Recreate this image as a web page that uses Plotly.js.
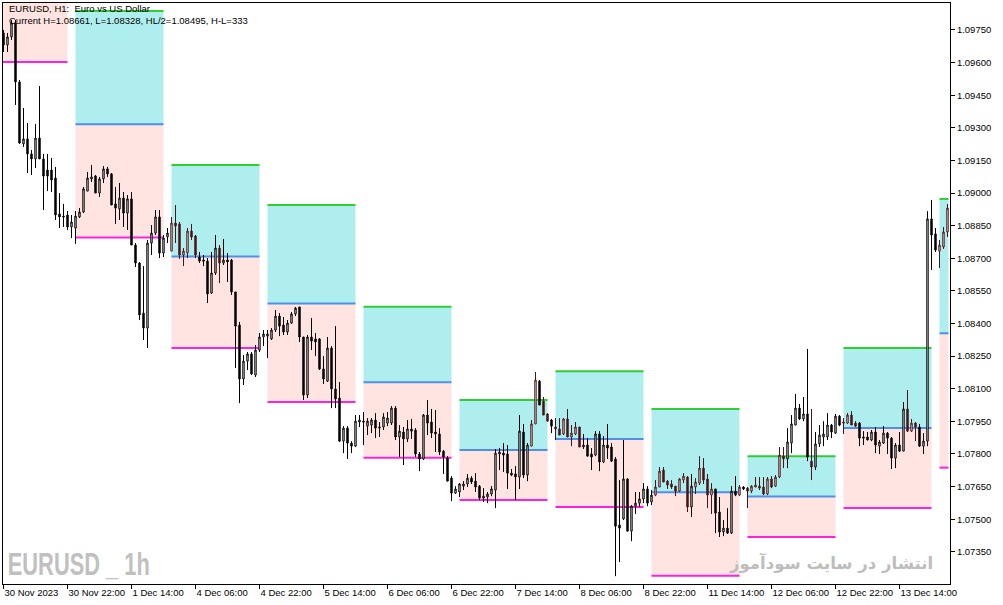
<!DOCTYPE html>
<html>
<head>
<meta charset="utf-8">
<script src="https://cdn.plot.ly/plotly-3.0.1.min.js"></script>
<style>
  html, body { margin: 0; padding: 0; background: #fff; }
  #chart { width: 1003px; height: 605px; }
</style>
</head>
<body>
<div id="chart"></div>
<script>
// EURUSD H1, bars from 30 Nov 2023 06:00 to 14 Dec 2023 02:00 (one line per day)
var openPx = [
  1.09736,1.09681,1.09718,1.09782,1.09511,1.09226,1.09249,1.09180,1.09157,1.09253,1.09157,1.09106,1.09106,1.09069,1.08904,1.08894,1.08899,1.08844,
  1.08839,1.08890,1.08913,1.09009,1.09065,1.09078,1.09000,1.09065,1.09111,1.09088,1.08950,1.08927,1.08977,1.08908,1.08973,1.08761,1.08678,1.08448,1.08379,1.08770,1.08816,1.08890,1.08724,1.08798,
  1.08733,1.08862,1.08858,1.08715,1.08724,1.08825,1.08802,1.08706,1.08692,1.08687,1.08540,1.08632,1.08747,1.08678,1.08692,1.08692,1.08545,1.08393,1.08145,1.08227,1.08260,1.08163,1.08278,1.08338,
  1.08342,1.08329,1.08370,1.08434,1.08393,1.08361,1.08402,1.08444,1.08476,1.08338,1.08071,1.08338,1.08329,1.08329,1.08191,1.08135,1.08287,1.08099,1.08057,1.07859,1.07919,1.07850,1.07836,1.07947,
  1.07951,1.07928,1.07933,1.07956,1.07919,1.07924,1.07942,1.07942,1.08011,1.07878,1.07901,1.07869,1.07915,1.07910,1.07800,1.07777,1.07979,1.07947,1.07901,1.07892,1.07813,1.07781,1.07689,1.07620,
  1.07625,1.07652,1.07662,1.07689,1.07675,1.07652,1.07597,1.07602,1.07616,1.07634,1.07800,1.07804,1.07800,1.07712,1.07708,1.07694,1.07901,1.07703,1.07836,1.07938,1.08135,1.08043,1.07984,1.07956,
  1.07924,1.07915,1.07892,1.07961,1.07878,1.07892,1.07924,1.07832,1.07841,1.07800,1.07795,1.07892,1.07763,1.07841,1.07832,1.07777,1.07473,1.07501,1.07685,1.07445,1.07560,1.07574,1.07593,1.07639,
  1.07579,1.07611,1.07648,1.07726,1.07675,1.07662,1.07652,1.07629,1.07680,1.07694,1.07556,1.07648,1.07666,1.07735,1.07685,1.07611,1.07639,1.07533,1.07441,1.07459,1.07436,1.07629,1.07611,1.07648,
  1.07643,1.07629,1.07648,1.07652,1.07648,1.07616,1.07685,1.07652,1.07694,1.07790,1.07777,1.07850,1.07933,1.08011,1.07961,1.07984,1.07767,1.07740,1.07846,1.07878,1.07878,1.07933,1.07896,1.07974,
  1.07947,1.07942,1.07979,1.07942,1.07942,1.07878,1.07878,1.07864,1.07901,1.07836,1.07850,1.07896,1.07873,1.07781,1.07841,1.07813,1.08007,1.07905,1.07942,1.07924,1.07836,1.07859,1.08881,1.08812,
  1.08733,1.08752,1.08821
];
var highPx = [
  1.09750,1.09736,1.09796,1.09796,1.09520,1.09391,1.09322,1.09198,1.09318,1.09492,1.09180,1.09180,1.09161,1.09120,1.09000,1.08950,1.08917,1.08899,
  1.08917,1.08931,1.09028,1.09097,1.09129,1.09083,1.09074,1.09124,1.09120,1.09092,1.09028,1.09046,1.09005,1.08991,1.09005,1.08770,1.08683,1.08664,1.08784,1.08853,1.08922,1.08922,1.08807,1.08839,
  1.08890,1.08945,1.08867,1.08747,1.08839,1.08858,1.08807,1.08729,1.08715,1.08701,1.08729,1.08807,1.08761,1.08789,1.08724,1.08697,1.08545,1.08407,1.08255,1.08269,1.08269,1.08301,1.08356,1.08370,
  1.08370,1.08379,1.08462,1.08448,1.08430,1.08416,1.08453,1.08476,1.08476,1.08338,1.08347,1.08425,1.08356,1.08333,1.08250,1.08338,1.08296,1.08388,1.08131,1.07928,1.07928,1.07859,1.07979,1.07979,
  1.07993,1.07965,1.07965,1.07988,1.07947,1.07988,1.07993,1.08020,1.08020,1.07933,1.07924,1.07956,1.07961,1.07919,1.07809,1.07984,1.08048,1.08007,1.08002,1.07919,1.07818,1.07790,1.07698,1.07652,
  1.07666,1.07675,1.07708,1.07698,1.07712,1.07657,1.07643,1.07625,1.07652,1.07823,1.07827,1.07850,1.07841,1.07731,1.07744,1.07979,1.07938,1.07850,1.07956,1.08177,1.08140,1.08062,1.07988,1.07961,
  1.07965,1.07965,1.07965,1.08007,1.07933,1.07947,1.07924,1.07892,1.07873,1.07827,1.07905,1.07905,1.07882,1.07938,1.07850,1.07786,1.07680,1.07864,1.07689,1.07565,1.07625,1.07625,1.07666,1.07652,
  1.07634,1.07680,1.07740,1.07740,1.07680,1.07680,1.07652,1.07689,1.07712,1.07698,1.07708,1.07689,1.07790,1.07781,1.07708,1.07666,1.07639,1.07602,1.07496,1.07551,1.07652,1.07698,1.07657,1.07652,
  1.07648,1.07657,1.07694,1.07694,1.07694,1.07694,1.07698,1.07703,1.07832,1.07832,1.07919,1.07979,1.08076,1.08030,1.08062,1.08283,1.08007,1.07901,1.07933,1.07951,1.07988,1.07938,1.07984,1.07979,
  1.07965,1.07988,1.07997,1.07951,1.07947,1.07905,1.07901,1.07910,1.07924,1.07864,1.07928,1.07901,1.07878,1.07850,1.07901,1.08039,1.08094,1.07961,1.07947,1.07938,1.07896,1.08917,1.08968,1.08839,
  1.08784,1.08844,1.08950
];
var lowPx = [
  1.09649,1.09649,1.09704,1.09405,1.09226,1.09212,1.09092,1.09083,1.09115,1.09157,1.08922,1.09009,1.09005,1.08876,1.08839,1.08844,1.08830,1.08793,
  1.08766,1.08885,1.08908,1.09009,1.09051,1.09000,1.08982,1.09046,1.09074,1.08945,1.08858,1.08876,1.08844,1.08830,1.08761,1.08660,1.08416,1.08324,1.08287,1.08715,1.08807,1.08701,1.08706,1.08770,
  1.08733,1.08770,1.08697,1.08664,1.08701,1.08784,1.08701,1.08678,1.08664,1.08494,1.08536,1.08623,1.08586,1.08669,1.08591,1.08531,1.08195,1.08034,1.08117,1.08186,1.08163,1.08154,1.08269,1.08296,
  1.08241,1.08324,1.08361,1.08342,1.08347,1.08347,1.08398,1.08434,1.08315,1.08048,1.08057,1.08278,1.08250,1.08186,1.08122,1.08131,1.08011,1.08011,1.07855,1.07804,1.07777,1.07804,1.07832,1.07924,
  1.07841,1.07887,1.07896,1.07873,1.07878,1.07910,1.07928,1.07933,1.07864,1.07786,1.07749,1.07855,1.07869,1.07786,1.07721,1.07772,1.07887,1.07873,1.07809,1.07795,1.07708,1.07675,1.07583,1.07616,
  1.07602,1.07634,1.07648,1.07662,1.07625,1.07588,1.07579,1.07574,1.07606,1.07551,1.07726,1.07717,1.07639,1.07698,1.07588,1.07639,1.07689,1.07675,1.07836,1.07938,1.08025,1.07979,1.07951,1.07896,
  1.07864,1.07887,1.07887,1.07878,1.07836,1.07887,1.07832,1.07823,1.07790,1.07726,1.07790,1.07721,1.07758,1.07777,1.07763,1.07238,1.07303,1.07496,1.07445,1.07399,1.07524,1.07556,1.07574,1.07560,
  1.07565,1.07606,1.07648,1.07671,1.07639,1.07639,1.07606,1.07625,1.07666,1.07533,1.07510,1.07616,1.07657,1.07662,1.07551,1.07524,1.07436,1.07418,1.07422,1.07432,1.07432,1.07606,1.07606,1.07634,
  1.07551,1.07620,1.07648,1.07634,1.07611,1.07611,1.07643,1.07648,1.07689,1.07735,1.07735,1.07804,1.07933,1.07956,1.07951,1.07767,1.07680,1.07726,1.07832,1.07836,1.07864,1.07873,1.07892,1.07928,
  1.07892,1.07938,1.07933,1.07924,1.07836,1.07841,1.07864,1.07859,1.07804,1.07800,1.07846,1.07800,1.07731,1.07735,1.07809,1.07813,1.07901,1.07901,1.07859,1.07832,1.07800,1.07836,1.08646,1.08729,
  1.08655,1.08743,1.08798
];
var closePx = [
  1.09681,1.09718,1.09782,1.09511,1.09230,1.09249,1.09180,1.09157,1.09253,1.09157,1.09078,1.09078,1.09060,1.08899,1.08890,1.08890,1.08844,1.08867,
  1.08894,1.08913,1.09019,1.09069,1.09074,1.09000,1.09065,1.09111,1.09088,1.08945,1.08931,1.08977,1.08908,1.08973,1.08761,1.08678,1.08439,1.08379,1.08770,1.08816,1.08890,1.08724,1.08793,1.08816,
  1.08862,1.08848,1.08715,1.08733,1.08825,1.08798,1.08715,1.08687,1.08687,1.08536,1.08632,1.08747,1.08678,1.08692,1.08683,1.08545,1.08388,1.08145,1.08227,1.08260,1.08168,1.08278,1.08338,1.08352,
  1.08352,1.08370,1.08434,1.08388,1.08361,1.08402,1.08444,1.08471,1.08338,1.08071,1.08338,1.08319,1.08315,1.08191,1.08145,1.08287,1.08099,1.08053,1.07859,1.07919,1.07850,1.07836,1.07951,1.07956,
  1.07947,1.07951,1.07956,1.07919,1.07924,1.07970,1.07965,1.08011,1.07878,1.07905,1.07869,1.07915,1.07905,1.07800,1.07777,1.07979,1.07942,1.07896,1.07892,1.07809,1.07786,1.07675,1.07620,1.07639,
  1.07662,1.07662,1.07689,1.07671,1.07648,1.07597,1.07606,1.07616,1.07639,1.07804,1.07809,1.07795,1.07712,1.07703,1.07694,1.07905,1.07703,1.07841,1.07938,1.08140,1.08025,1.07979,1.07951,1.07928,
  1.07915,1.07887,1.07961,1.07878,1.07896,1.07924,1.07832,1.07841,1.07790,1.07786,1.07892,1.07763,1.07841,1.07827,1.07767,1.07468,1.07459,1.07685,1.07445,1.07560,1.07574,1.07593,1.07639,1.07574,
  1.07611,1.07648,1.07721,1.07671,1.07657,1.07648,1.07629,1.07685,1.07698,1.07556,1.07652,1.07671,1.07735,1.07680,1.07611,1.07639,1.07528,1.07441,1.07459,1.07436,1.07629,1.07611,1.07648,1.07639,
  1.07629,1.07652,1.07657,1.07643,1.07616,1.07685,1.07648,1.07694,1.07795,1.07777,1.07855,1.07938,1.08011,1.07961,1.07984,1.07786,1.07740,1.07846,1.07887,1.07892,1.07933,1.07901,1.07974,1.07933,
  1.07942,1.07979,1.07933,1.07928,1.07873,1.07873,1.07864,1.07901,1.07841,1.07855,1.07896,1.07873,1.07781,1.07841,1.07813,1.08007,1.07905,1.07942,1.07924,1.07836,1.07859,1.08881,1.08807,1.08738,
  1.08761,1.08821,1.08931
];

// time axis: bar number -> label
var tickBars = [0, 16, 32, 48, 64, 80, 96, 112, 128, 144, 160, 176, 192, 208, 224];
var tickLabels = ['30 Nov 2023', '30 Nov 22:00', '1 Dec 14:00', '4 Dec 06:00', '4 Dec 22:00', '5 Dec 14:00',
  '6 Dec 06:00', '6 Dec 22:00', '7 Dec 14:00', '8 Dec 06:00', '8 Dec 22:00', '11 Dec 14:00',
  '12 Dec 06:00', '12 Dec 22:00', '13 Dec 14:00'];
var priceTicks = [1.0735, 1.0750, 1.0765, 1.0780, 1.0795, 1.0810, 1.0825, 1.0840, 1.0855,
  1.0870, 1.0885, 1.0900, 1.0915, 1.0930, 1.0945, 1.0960, 1.0975];

// previous-day range boxes: first bar (00:00) of each day, and the prior day's high / low
var dayStart = [-6, 18, 42, 66, 90, 114, 138, 162, 186, 210, 234];
var prevHigh = [1.10171, 1.09837, 1.09129, 1.08945, 1.08477, 1.08048, 1.08181, 1.08007, 1.07790, 1.08287, 1.08973];
var prevLow  = [1.09603, 1.08795, 1.08287, 1.08039, 1.07783, 1.07588, 1.07556, 1.07240, 1.07418, 1.07551, 1.07737];

var FONT = 'Liberation Sans, Arial, sans-serif';
var lastBar = openPx.length - 1;

var shapes = [];
function addRect(x0, x1, y0, y1, color) {
  shapes.push({type: 'rect', xref: 'x', yref: 'y', x0: x0, x1: x1, y0: y0, y1: y1,
    fillcolor: color, line: {width: 0}, layer: 'below'});
}
function addLevel(x0, x1, y, color) {
  shapes.push({type: 'line', xref: 'x', yref: 'y', x0: x0, x1: x1, y0: y, y1: y,
    line: {color: color, width: 2}, layer: 'below'});
}
dayStart.forEach(function (s, k) {
  var end = Math.min(s + 22, lastBar + 0.25);
  var mid = (prevHigh[k] + prevLow[k]) / 2;
  addRect(s, end, mid, prevHigh[k], '#afeeee');
  addRect(s, end, prevLow[k], mid, '#ffe4e1');
  addLevel(s, end, prevHigh[k], '#32cd32');
  addLevel(s, end, mid, '#4f8fe6');
  addLevel(s, end, prevLow[k], '#ff22dd');
});

// bars sitting in the upper (cyan) half of a box are drawn in maroon, like the terminal does
function inUpperHalf(i) {
  for (var k = 0; k < dayStart.length; k++) {
    var s = dayStart[k];
    if (i >= s && i <= s + 22) {
      var mid = (prevHigh[k] + prevLow[k]) / 2;
      var c = (openPx[i] + closePx[i]) / 2;
      return c > mid && c < prevHigh[k];
    }
  }
  return false;
}

function createCandles(ids, color) {
  return {
    type: 'candlestick',
    x: ids,
    open: ids.map(function (i) { return openPx[i]; }),
    high: ids.map(function (i) { return highPx[i]; }),
    low: ids.map(function (i) { return lowPx[i]; }),
    close: ids.map(function (i) { return closePx[i]; }),
    increasing: {line: {color: color, width: 1}, fillcolor: '#ffffff'},
    decreasing: {line: {color: color, width: 1}, fillcolor: color},
    whiskerwidth: 0,
    hoverinfo: 'skip',
    showlegend: false
  };
}

var upperIds = [], otherIds = [];
openPx.forEach(function (o, i) {
  if (inUpperHalf(i)) upperIds.push(i); else otherIds.push(i);
});
var data = [createCandles(otherIds, '#000000'), createCandles(upperIds, '#4a1414')];

var layout = {
  width: 1003,
  height: 605,
  margin: {l: 3, r: 53, t: 3, b: 21},
  paper_bgcolor: '#ffffff',
  plot_bgcolor: '#ffffff',
  showlegend: false,
  boxgap: 0.5,
  font: {family: FONT, size: 10, color: '#000'},
  xaxis: {
    // quarter-bar shift puts every candle centre on a half pixel so 1px outlines stay sharp
    range: [-0.125, 236.625],
    showgrid: false, zeroline: false,
    showline: true, mirror: true, linecolor: '#000', linewidth: 1,
    ticks: 'outside', ticklen: 4, tickcolor: '#000', tickwidth: 1,
    tickmode: 'array', tickvals: tickBars, ticktext: tickLabels,
    tickangle: 0,
    ticklabelposition: 'outside right',
    tickfont: {family: FONT, size: 9.5, color: '#000'},
    rangeslider: {visible: false},
    fixedrange: true
  },
  yaxis: {
    side: 'right',
    range: [1.07202, 1.09874],
    showgrid: false, zeroline: false,
    showline: true, mirror: true, linecolor: '#000', linewidth: 1,
    ticks: 'outside', ticklen: 4, tickcolor: '#000', tickwidth: 1,
    tickmode: 'array', tickvals: priceTicks, tickformat: '.5f',
    tickfont: {family: FONT, size: 9.5, color: '#000'},
    fixedrange: true
  },
  shapes: shapes,
  annotations: [
    {xref: 'paper', yref: 'paper', x: 0.004, y: 0.991, xanchor: 'left', yanchor: 'middle', showarrow: false,
      text: 'EURUSD, H1:\u00a0\u00a0Euro vs US Dollar', font: {family: FONT, size: 9.5, color: '#000'}},
    {xref: 'paper', yref: 'paper', x: 0.004, y: 0.970, xanchor: 'left', yanchor: 'middle', showarrow: false,
      text: 'Current H=1.08661, L=1.08328, HL/2=1.08495, H-L=333', font: {family: FONT, size: 9.5, color: '#000'}},
    {xref: 'paper', yref: 'paper', x: 0.0803, y: 0.033, xanchor: 'center', yanchor: 'middle', showarrow: false,
      text: '<b>EURUSD _ 1h</b>', font: {family: FONT, size: 31, color: '#c0c0c0'}},
    {xref: 'paper', yref: 'paper', x: 0.984, y: 0.036, xanchor: 'right', yanchor: 'middle', showarrow: false,
      text: '<b>انتشار در سایت سودآموز</b>', font: {family: 'DejaVu Sans, Noto Sans, sans-serif', size: 16.5, color: '#bdbdbd'}}
  ]
};

Plotly.newPlot('chart', data, layout, {displayModeBar: false, staticPlot: true}).then(function (gd) {
  // the terminal watermark uses a condensed bold face: squeeze the text to its width
  var mark = gd.querySelector('.annotation[data-index="2"] .annotation-text');
  if (mark) {
    mark.setAttribute('textLength', 142);
    mark.setAttribute('lengthAdjust', 'spacingAndGlyphs');
  }
});
</script>
</body>
</html>
